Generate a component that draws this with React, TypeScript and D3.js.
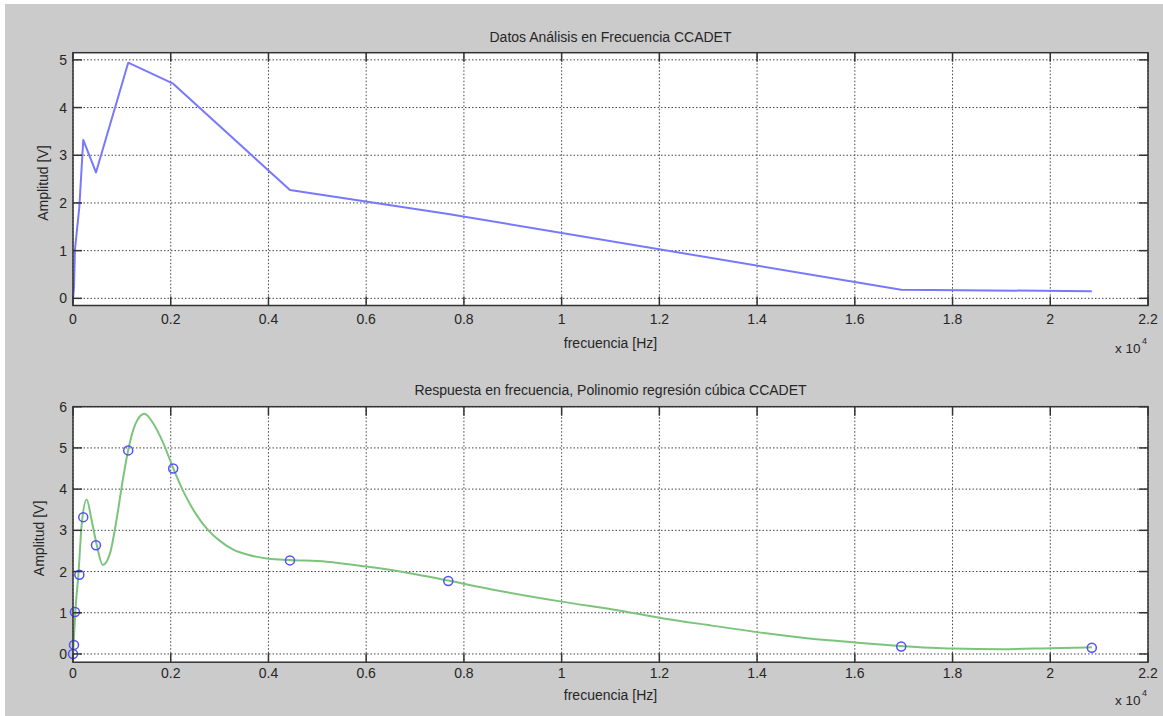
import React from "react";
import * as d3 from "d3";

// Measured samples (frequency in Hz, amplitude in V)
const freqHz = [0, 20, 40, 130, 210, 470, 1130, 2050, 4440, 7680, 16950, 20850];
const amplitude = [0, 0.22, 1.02, 1.92, 3.32, 2.64, 4.94, 4.5, 2.27, 1.77, 0.18, 0.15];

// Fitted curve (Hz, V)
const fitFreq = [0, 20, 50, 110, 180, 280, 380, 485, 610, 757, 890, 1030, 1130, 1270, 1460, 1640, 1850, 2050, 2260, 2530, 2770, 3000, 3280, 3600, 4000, 4440, 5190, 6000, 6900, 7680, 8600, 10000, 11200, 12000, 13000, 14000, 15020, 16000, 16930, 18000, 19000, 20000, 20850];
const fitAmp = [0, 0.4, 1.07, 1.92, 3.17, 3.75, 3.25, 2.65, 2.16, 2.44, 3.25, 4.3, 4.95, 5.56, 5.83, 5.6, 5.11, 4.51, 3.94, 3.37, 3.0, 2.75, 2.53, 2.4, 2.31, 2.28, 2.24, 2.12, 1.96, 1.78, 1.56, 1.27, 1.05, 0.88, 0.7, 0.53, 0.38, 0.28, 0.195, 0.13, 0.115, 0.14, 0.16];

const xTicks = [0, 2000, 4000, 6000, 8000, 10000, 12000, 14000, 16000, 18000, 20000, 22000];
const xTickLabels = ["0", "0.2", "0.4", "0.6", "0.8", "1", "1.2", "1.4", "1.6", "1.8", "2", "2.2"];
const yTicksTop = [0, 1, 2, 3, 4, 5];
const yTicksBottom = [0, 1, 2, 3, 4, 5, 6];

const titleTop = "Datos Análisis en Frecuencia CCADET";
const titleBottom = "Respuesta en frecuencia, Polinomio regresión cúbica CCADET";
const xLabel = "frecuencia [Hz]";
const yLabel = "Amplitud [V]";

const W = 1163;
const H = 716;
const X0 = 73;
const X1 = 1148;
const FONT = "'Liberation Sans', Arial, sans-serif";
const TXT = "#262626";

type PanelProps = {
  top: number;
  bottom: number;
  yDomain: [number, number];
  yTicks: number[];
  title: string;
  titleY: number;
  tickLabelY: number;
  xLabelY: number;
  yLabelX: number;
  expY: number;
  children: (x: d3.ScaleLinear<number, number>, y: d3.ScaleLinear<number, number>) => React.ReactNode;
};

function Panel(p: PanelProps) {
  const x = d3.scaleLinear().domain([0, 22000]).range([X0, X1]);
  const y = d3.scaleLinear().domain(p.yDomain).range([p.bottom, p.top]);
  const tl = 9;
  const cx = (X0 + X1) / 2;
  const cy = (p.top + p.bottom) / 2;
  return (
    <g>
      <rect x={X0} y={p.top} width={X1 - X0} height={p.bottom - p.top} fill="#ffffff" />
      {xTicks.map((t) => (
        <line key={"gx" + t} x1={x(t)} x2={x(t)} y1={p.top} y2={p.bottom} stroke="#444" strokeWidth={1} strokeDasharray="1.5,2" />
      ))}
      {p.yTicks.map((t) => (
        <line key={"gy" + t} x1={X0} x2={X1} y1={y(t)} y2={y(t)} stroke="#444" strokeWidth={1} strokeDasharray="1.5,2" />
      ))}
      {p.children(x, y)}
      {xTicks.map((t) => (
        <g key={"tx" + t}>
          <line x1={x(t)} x2={x(t)} y1={p.bottom} y2={p.bottom - tl} stroke="#333" strokeWidth={1.5} />
          <line x1={x(t)} x2={x(t)} y1={p.top} y2={p.top + tl} stroke="#333" strokeWidth={1.5} />
        </g>
      ))}
      {p.yTicks.map((t) => (
        <g key={"ty" + t}>
          <line x1={X0} x2={X0 + tl} y1={y(t)} y2={y(t)} stroke="#333" strokeWidth={1.5} />
          <line x1={X1} x2={X1 - tl} y1={y(t)} y2={y(t)} stroke="#333" strokeWidth={1.5} />
        </g>
      ))}
      <rect x={X0} y={p.top} width={X1 - X0} height={p.bottom - p.top} fill="none" stroke="#333" strokeWidth={1.5} />
      {xTicks.map((t, i) => (
        <text key={"lx" + t} x={x(t)} y={p.tickLabelY} textAnchor="middle" fontSize={14} fill={TXT} fontFamily={FONT}>
          {xTickLabels[i]}
        </text>
      ))}
      {p.yTicks.map((t) => (
        <text key={"ly" + t} x={67} y={y(t) + 5} textAnchor="end" fontSize={14} fill={TXT} fontFamily={FONT}>
          {t}
        </text>
      ))}
      <text x={cx} y={p.titleY} textAnchor="middle" fontSize={14} fill={TXT} fontFamily={FONT}>
        {p.title}
      </text>
      <text x={cx} y={p.xLabelY} textAnchor="middle" fontSize={14} fill={TXT} fontFamily={FONT}>
        {xLabel}
      </text>
      <text
        transform={`translate(${p.yLabelX},${cy + 4}) rotate(-90)`}
        textAnchor="middle"
        fontSize={14}
        fill={TXT}
        fontFamily={FONT}
      >
        {yLabel}
      </text>
      <text x={1115} y={p.expY} fontSize={13.5} fill={TXT} fontFamily={FONT}>
        x 10
      </text>
      <text x={1142} y={p.expY - 9} fontSize={9} fill={TXT} fontFamily={FONT}>
        4
      </text>
    </g>
  );
}

export default function App() {
  const idx = d3.range(freqHz.length);
  const fidx = d3.range(fitFreq.length);
  return (
    <div style={{ position: "fixed", left: 0, top: 0, width: W, height: H }}>
      <svg width={W} height={H} style={{ display: "block" }}>
        <rect x={0} y={0} width={W} height={H} fill="#ffffff" />
        <rect x={5} y={4} width={W - 5} height={H - 4} fill="#cbcbcb" />
        <Panel
          top={52.7}
          bottom={305.5}
          yDomain={[-0.15, 5.15]}
          yTicks={yTicksTop}
          title={titleTop}
          titleY={42}
          tickLabelY={324}
          xLabelY={348}
          yLabelX={48}
          expY={353}
        >
          {(x, y) => {
            const line = d3
              .line<number>()
              .x((i) => x(freqHz[i]))
              .y((i) => y(amplitude[i]));
            return <path d={line(idx) || ""} fill="none" stroke="#7878ff" strokeWidth={2} strokeLinejoin="round" />;
          }}
        </Panel>
        <Panel
          top={406.7}
          bottom={662.2}
          yDomain={[-0.2, 6]}
          yTicks={yTicksBottom}
          title={titleBottom}
          titleY={395}
          tickLabelY={678}
          xLabelY={700}
          yLabelX={44}
          expY={705}
        >
          {(x, y) => {
            const line = d3
              .line<number>()
              .x((i) => x(fitFreq[i]))
              .y((i) => y(fitAmp[i]))
              .curve(d3.curveMonotoneX);
            return (
              <g>
                <path d={line(fidx) || ""} fill="none" stroke="#7cc47c" strokeWidth={2} />
                {idx.map((i) => (
                  <circle key={i} cx={x(freqHz[i])} cy={y(amplitude[i])} r={4.5} fill="none" stroke="#5050ff" strokeWidth={1.5} />
                ))}
              </g>
            );
          }}
        </Panel>
      </svg>
    </div>
  );
}
